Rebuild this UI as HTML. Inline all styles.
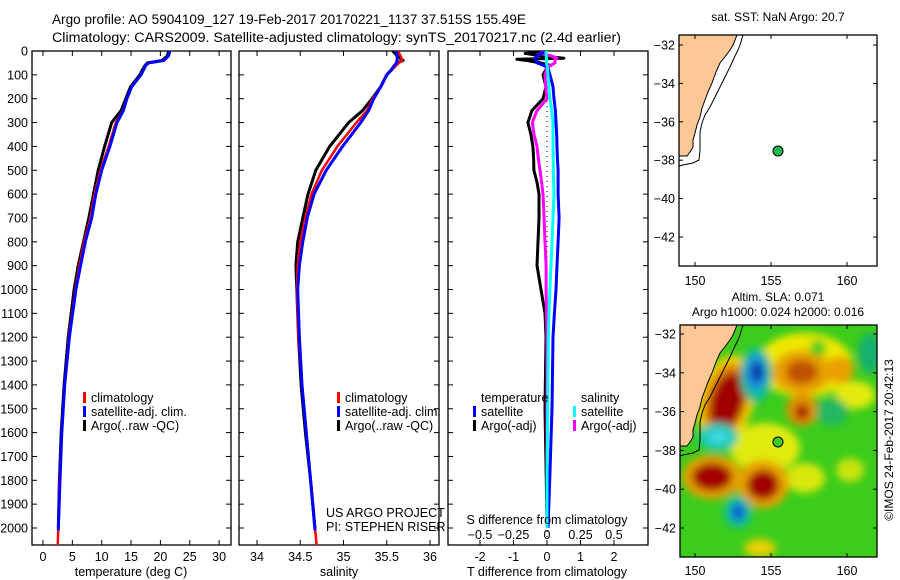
<!DOCTYPE html>
<html><head><meta charset="utf-8"><style>
body{margin:0;background:#fff;}
svg{display:block;font-family:"Liberation Sans",sans-serif;}
text{fill:#000;}
</style></head><body>
<svg id="chart" width="900" height="580" viewBox="0 0 900 580" xmlns="http://www.w3.org/2000/svg">
<defs>
<clipPath id="c1"><rect x="32" y="51" width="199" height="494"/></clipPath>
<clipPath id="c2"><rect x="239" y="51" width="200" height="494"/></clipPath>
<clipPath id="c3"><rect x="448" y="51" width="200" height="494"/></clipPath>
<clipPath id="cm2"><rect x="680" y="325" width="197" height="232"/></clipPath>
<filter id="bl" x="-50%" y="-50%" width="200%" height="200%"><feGaussianBlur stdDeviation="4"/></filter>
</defs>
<g>
<text x="52" y="24" font-size="13.5" textLength="474" lengthAdjust="spacingAndGlyphs">Argo profile: AO 5904109_127 19-Feb-2017 20170221_1137 37.515S 155.49E</text>
<text x="52" y="42" font-size="13.5" textLength="569" lengthAdjust="spacingAndGlyphs">Climatology: CARS2009. Satellite-adjusted climatology: synTS_20170217.nc (2.4d earlier)</text>
</g>
<g id="p1"></g>
<g id="p2"></g>
<g id="p3"></g>

<!-- top map -->
<g>
<text x="778" y="21" font-size="12" text-anchor="middle">sat. SST: NaN Argo: 20.7</text>
<rect x="679" y="35" width="198" height="231" fill="#fff"/>
<polygon points="679,35 737,35 733,45 730,50 724,58 720,63 716,72 712,83 708,92 705,100 702,108 700,117 697,125 695,133 693,140 693,147 690,152 687,156 679,156" fill="#fdc896" stroke="#000" stroke-width="1"/>
<polyline points="743,35 740,45 738,50 734,58 730,67 725,77 720,87 715,97 710,107 705,115 702,123 700,132 700,140 700,150 699,160 693,163 683,165 679,166" fill="none" stroke="#000" stroke-width="1"/>
<circle cx="778" cy="151" r="5" fill="#1db954" stroke="#000" stroke-width="1"/>
<rect x="679" y="35" width="198" height="231" fill="none" stroke="#000" stroke-width="1.3"/>
<g id="m1ticks"></g>
</g>

<!-- bottom map -->
<g>
<text x="778" y="301" font-size="12" text-anchor="middle">Altim. SLA: 0.071</text>
<text x="778" y="316" font-size="12" text-anchor="middle">Argo h1000: 0.024 h2000: 0.016</text>
<g clip-path="url(#cm2)">
<rect x="680" y="325" width="197" height="232" fill="#3ccc1c"/>
<g filter="url(#bl)">
<ellipse cx="805" cy="365" rx="48" ry="32" fill="#f0e800"/>
<ellipse cx="765" cy="448" rx="35" ry="25" fill="#e0ea10"/>
<ellipse cx="855" cy="395" rx="20" ry="14" fill="#e4ea10"/>
<ellipse cx="805" cy="478" rx="20" ry="15" fill="#d8e810"/>
<ellipse cx="850" cy="470" rx="14" ry="12" fill="#c8e410"/>
<ellipse cx="726" cy="400" rx="28" ry="46" fill="#f0d000" transform="rotate(15 726 400)"/>
<ellipse cx="726" cy="400" rx="21" ry="37" fill="#e08000" transform="rotate(15 726 400)"/>
<ellipse cx="727" cy="402" rx="16" ry="30" fill="#a00000" transform="rotate(15 727 402)"/>
<ellipse cx="802" cy="372" rx="30" ry="22" fill="#e8a000"/>
<ellipse cx="802" cy="372" rx="16" ry="12" fill="#c05000"/>
<ellipse cx="802" cy="410" rx="16" ry="16" fill="#e09000"/>
<ellipse cx="802" cy="412" rx="7" ry="8" fill="#a82000"/>
<ellipse cx="840" cy="370" rx="14" ry="14" fill="#e8a000"/>
<ellipse cx="818" cy="348" rx="8" ry="8" fill="#3ccc1c"/>
<ellipse cx="832" cy="412" rx="16" ry="14" fill="#20b860"/>
<ellipse cx="756" cy="375" rx="16" ry="28" fill="#10c090"/>
<ellipse cx="756" cy="373" rx="11" ry="18" fill="#2090e0"/>
<ellipse cx="757" cy="372" rx="6" ry="10" fill="#0030a0"/>
<ellipse cx="718" cy="437" rx="20" ry="14" fill="#10c8b0"/>
<ellipse cx="718" cy="437" rx="11" ry="7" fill="#40d8e0"/>
<ellipse cx="712" cy="477" rx="30" ry="22" fill="#e8a000"/>
<ellipse cx="712" cy="477" rx="20" ry="14" fill="#a00000"/>
<ellipse cx="763" cy="484" rx="26" ry="24" fill="#e8a000"/>
<ellipse cx="763" cy="485" rx="16" ry="15" fill="#a00000"/>
<ellipse cx="738" cy="512" rx="14" ry="16" fill="#10c0a0"/>
<ellipse cx="738" cy="512" rx="7" ry="9" fill="#1060d0"/>
<ellipse cx="870" cy="353" rx="12" ry="20" fill="#18b070"/>
<ellipse cx="760" cy="548" rx="16" ry="9" fill="#e8d000"/>
</g>
<polygon points="679,325 737,325 733,335 730,340 724,348 720,353 716,362 712,373 708,382 705,390 702,398 700,407 697,415 695,423 693,430 693,437 690,442 687,446 679,446" fill="#fdc896" stroke="#000" stroke-width="1"/>
<polyline points="743,325 740,335 738,340 734,348 730,357 725,367 720,377 715,387 710,397 705,405 702,413 700,422 700,430 700,440 699,450 693,453 683,455 679,456" fill="none" stroke="#000" stroke-width="1"/>
</g>
<circle cx="778" cy="442" r="5" fill="#3ccc1c" stroke="#000" stroke-width="1"/>
<rect x="680" y="325" width="197" height="232" fill="none" stroke="#000" stroke-width="1.3"/>
<g id="m2ticks"></g>
</g>
<text transform="translate(893,440) rotate(-90)" font-size="12" text-anchor="middle">©IMOS 24-Feb-2017 20:42:13</text>
</svg>
<script>
// ---------- data ----------
const argoDepth = [0,20,40,50,60,80,100,150,200,250,300,400,500,600,700,800,900,1000,1200,1400,1600,1800,2000];
const satDepth  = [0,20,40,50,60,80,100,150,200,250,300,400,500,600,700,800,900,1000,1200,1400,1600,1800,2010];
const climDepth = [0,20,40,50,60,80,100,150,200,250,300,400,500,600,700,800,900,1000,1200,1400,1600,1800,2000,2075];
const argoTemp = [21.4,21.2,20.3,17.8,17.4,16.9,16.5,14.9,14.1,13.3,11.7,10.5,9.4,8.6,7.8,6.9,6.0,5.3,4.3,3.6,3.1,2.8,2.6];
const satTemp  = [21.6,21.4,20.6,18.0,17.5,17.1,16.7,15.1,14.3,13.7,12.6,11.4,10.0,9.0,8.3,7.2,6.4,5.6,4.5,3.7,3.2,2.9,2.6];
const climTemp = [21.6,21.4,20.5,18.0,17.5,17.1,16.7,15.1,14.3,13.6,12.4,11.2,9.8,8.8,8.1,7.0,6.2,5.5,4.4,3.7,3.2,2.8,2.6,2.5];
const argoSal = [35.57,35.62,35.69,35.62,35.60,35.55,35.50,35.43,35.33,35.22,35.06,34.84,34.68,34.59,34.53,34.47,34.45,34.46,34.48,34.51,34.56,34.62,34.67];
const satSal  = [35.61,35.62,35.62,35.61,35.59,35.55,35.50,35.43,35.35,35.29,35.20,34.99,34.80,34.66,34.58,34.53,34.49,34.47,34.49,34.52,34.57,34.62,34.67];
const climSal = [35.63,35.66,35.68,35.64,35.61,35.56,35.50,35.43,35.34,35.27,35.15,34.93,34.75,34.63,34.56,34.50,34.47,34.46,34.48,34.52,34.57,34.62,34.67,34.69];
const diffDepth = [0,10,20,30,35,40,50,60,70,100,150,200,250,300,350,400,450,500,550,600,700,800,900,1000,1100,1200,1500,1800,2000];
const dTsat  = [-0.03,-0.15,-0.3,-0.36,-0.34,-0.32,-0.3,-0.1,0.02,0.09,0.18,0.21,0.25,0.27,0.29,0.30,0.31,0.33,0.33,0.33,0.36,0.33,0.30,0.27,0.22,0.18,0.15,0.08,0.03];
const dTargo = [-0.03,-0.65,-0.2,0.5,-0.9,-0.6,-0.2,0.1,0.0,-0.12,-0.03,-0.12,-0.45,-0.57,-0.48,-0.42,-0.4,-0.39,-0.3,-0.24,-0.24,-0.27,-0.3,-0.18,-0.06,-0.03,-0.06,-0.02,0.0];
const dSsat  = [-0.007,-0.007,-0.005,-0.004,-0.004,-0.003,-0.002,0.0,0.003,0.007,0.015,0.022,0.035,0.045,0.045,0.045,0.047,0.047,0.05,0.052,0.045,0.037,0.03,0.022,0.015,0.01,0.005,0.0,0.0];
const dSargo = [-0.007,-0.05,0.03,0.075,0.06,0.06,0.06,0.03,0.0,-0.015,-0.01,0.0,-0.075,-0.11,-0.097,-0.075,-0.065,-0.052,-0.04,-0.03,-0.022,-0.015,-0.007,-0.007,-0.004,0.0,0.0,0.0,0.0];
const depthTicks = [0,100,200,300,400,500,600,700,800,900,1000,1100,1200,1300,1400,1500,1600,1700,1800,1900,2000];
const tempTicks = [0,5,10,15,20,25,30];
const salTicks = [34,34.5,35,35.5,36];
const dTTicks = [-2,-1,0,1,2];
const dSTicks = [-0.5,-0.25,0,0.25,0.5];
const lonTicks = [150,155,160];
const latTicks = [-32,-34,-36,-38,-40,-42];

// ---------- scales ----------
const yD = d => 51 + d*0.2385;
const xT = t => 43 + t*5.87;
const xS = s => 257 + (s-34)*86.5;
const xDT = v => 547 + v*33.5;
const xDS = v => 547 + v*134;
const NS='http://www.w3.org/2000/svg';
function mk(parent, tag, attrs){const e=document.createElementNS(NS,tag);for(const k in attrs)e.setAttribute(k,attrs[k]);parent.appendChild(e);return e;}
function line(parent,xs,ys,xf,color,w,name,clip){
  let d='';xs.forEach((v,i)=>{d+=(i?'L':'M')+xf(v).toFixed(1)+','+yD(ys[i]).toFixed(1);});
  const p=mk(parent,'path',{d:d,fill:'none',stroke:color,'stroke-width':w,'stroke-linejoin':'round','clip-path':clip});
  
  
}
function box(g,x0,x1,showLabels){
  mk(g,'rect',{x:x0,y:51,width:x1-x0,height:494,fill:'none',stroke:'#000','stroke-width':1.3});
  depthTicks.forEach(d=>{
    mk(g,'line',{x1:x0,x2:x0+5,y1:yD(d),y2:yD(d),stroke:'#000'});
    mk(g,'line',{x1:x1,x2:x1-5,y1:yD(d),y2:yD(d),stroke:'#000'});
    if(showLabels){const t=mk(g,'text',{x:x0-4,y:yD(d)+4.5,'font-size':12.5,'text-anchor':'end'});t.textContent=d;
      
      }
  });
}
function xticks(g,ticks,xf,ylab,top,fmt,name){
  ticks.forEach(v=>{
    mk(g,'line',{x1:xf(v),x2:xf(v),y1:545,y2:540,stroke:'#000'});
    if(top) mk(g,'line',{x1:xf(v),x2:xf(v),y1:51,y2:56,stroke:'#000'});
    const t=mk(g,'text',{x:xf(v),y:ylab,'font-size':12.5,'text-anchor':'middle'});t.textContent=fmt?fmt(v):v;
    
    
  });
}
function legend(g,x,y,color,label){
  mk(g,'rect',{x:x,y:y-10,width:3,height:11,fill:color});
  const t=mk(g,'text',{x:x+8,y:y,'font-size':12.5});t.textContent=label;
  
  
}
// panel 1
const p1=document.getElementById('p1');
box(p1,32,231,true);
xticks(p1,tempTicks,xT,561,true,null,'temperature-tick-label');
line(p1,argoTemp,argoDepth,xT,'#000',3,'argo-temperature-line','url(#c1)');
line(p1,climTemp,climDepth,xT,'#f00',2.5,'climatology-temperature-line','url(#c1)');
line(p1,satTemp,satDepth,xT,'#00f',3,'satellite-temperature-line','url(#c1)');
legend(p1,83,402,'#f00','climatology');legend(p1,83,416,'#00f','satellite-adj. clim.');legend(p1,83,430,'#000','Argo(..raw -QC)');
let t=mk(p1,'text',{x:131,y:576,'font-size':12.5,'text-anchor':'middle'});t.textContent='temperature (deg C)';


// panel 2
const p2=document.getElementById('p2');
box(p2,239,439,false);
xticks(p2,salTicks,xS,561,true,null,'salinity-tick-label');
line(p2,argoSal,argoDepth,xS,'#000',3,'argo-salinity-line','url(#c2)');
line(p2,climSal,climDepth,xS,'#f00',2.5,'climatology-salinity-line','url(#c2)');
line(p2,satSal,satDepth,xS,'#00f',3,'satellite-salinity-line','url(#c2)');
legend(p2,337,402,'#f00','climatology');legend(p2,337,416,'#00f','satellite-adj. clim.');legend(p2,337,430,'#000','Argo(..raw -QC)');
t=mk(p2,'text',{x:339,y:576,'font-size':12.5,'text-anchor':'middle'});t.textContent='salinity';


t=mk(p2,'text',{x:326,y:517,'font-size':12.5});t.textContent='US ARGO PROJECT';


t=mk(p2,'text',{x:326,y:531,'font-size':12.5});t.textContent='PI: STEPHEN RISER';


// panel 3
const p3=document.getElementById('p3');
box(p3,448,648,false);
xticks(p3,dTTicks,xDT,561,true,null,'t-difference-tick-label');
dSTicks.forEach(v=>{const tt=mk(p3,'text',{x:xDS(v),y:539,'font-size':12.5,'text-anchor':'middle'});tt.textContent=(v<0?'\u2212':'')+Math.abs(v);
  
  });
mk(p3,'line',{x1:547,x2:547,y1:51,y2:545,stroke:'#000','stroke-dasharray':'1,4'});
line(p3,dTargo,diffDepth,xDT,'#000',3,'argo-t-difference-line','url(#c3)');
line(p3,dSargo,diffDepth,xDS,'#f0f',3,'argo-s-difference-line','url(#c3)');
line(p3,dTsat,diffDepth,xDT,'#00f',3,'satellite-t-difference-line','url(#c3)');
line(p3,dSsat,diffDepth,xDS,'#0ff',3,'satellite-s-difference-line','url(#c3)');
t=mk(p3,'text',{x:481,y:402,'font-size':12.5});t.textContent='temperature';


t=mk(p3,'text',{x:581,y:402,'font-size':12.5});t.textContent='salinity';


legend(p3,473,416,'#00f','satellite');legend(p3,473,430,'#000','Argo(-adj)');
legend(p3,573,416,'#0ff','satellite');legend(p3,573,430,'#f0f','Argo(-adj)');
t=mk(p3,'text',{x:547,y:524,'font-size':12.5,'text-anchor':'middle'});t.textContent='S difference from climatology';


t=mk(p3,'text',{x:547,y:576,'font-size':12.5,'text-anchor':'middle'});t.textContent='T difference from climatology';


// maps ticks
function mapTicks(id,x0,x1,y0,y1,latY,labY){
  const g=document.getElementById(id);
  const lx=v=>695+(v-150)*15.2;
  lonTicks.forEach(v=>{
    mk(g,'line',{x1:lx(v),x2:lx(v),y1:y1,y2:y1-4,stroke:'#000'});
    mk(g,'line',{x1:lx(v),x2:lx(v),y1:y0,y2:y0+4,stroke:'#000'});
    const tt=mk(g,'text',{x:lx(v),y:labY,'font-size':12.5,'text-anchor':'middle'});tt.textContent=v;
    
    
  });
  latTicks.forEach(v=>{
    const yy=latY(v);
    mk(g,'line',{x1:x0,x2:x0+4,y1:yy,y2:yy,stroke:'#000'});
    mk(g,'line',{x1:x1,x2:x1-4,y1:yy,y2:yy,stroke:'#000'});
    const tt=mk(g,'text',{x:x0-4,y:yy+4.5,'font-size':12.5,'text-anchor':'end'});tt.textContent='\u2212'+Math.abs(v);
    
    
  });
}
mapTicks('m1ticks',679,877,35,266,v=>45+(-32-v)*19.2,285);
mapTicks('m2ticks',680,877,325,557,v=>334+(-32-v)*19.4,575);
</script>
</body></html>
